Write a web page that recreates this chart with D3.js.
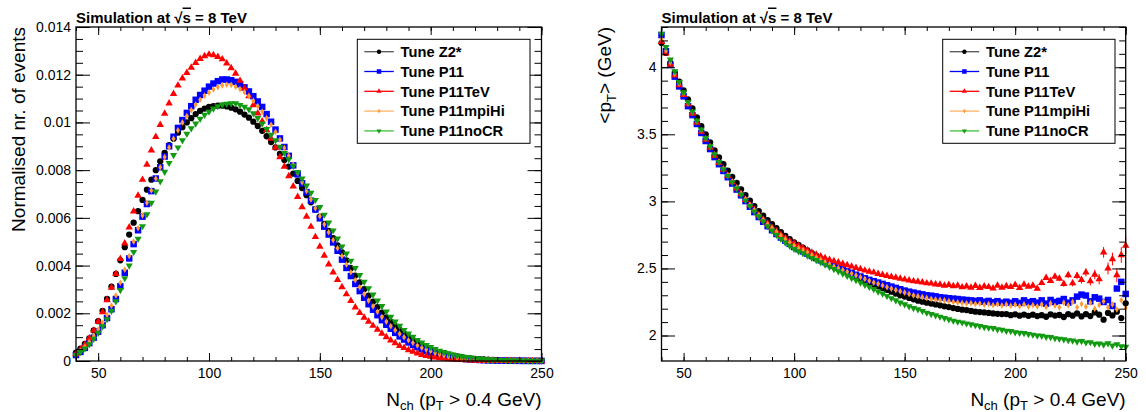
<!DOCTYPE html>
<html><head><meta charset="utf-8">
<script src="https://cdn.jsdelivr.net/npm/d3@7"></script>
<style>
body{margin:0;background:#fff}
text{font-family:"Liberation Sans",Arial,Helvetica,sans-serif}
</style>
</head><body><svg id="c" width="1146" height="412"></svg>
<script>
// ---------------- DATA ----------------
const seriesNames = ["Tune Z2*","Tune P11","Tune P11TeV","Tune P11mpiHi","Tune P11noCR"];
const xTicks = [50,100,150,200,250];
const distTicks = [0,0.002,0.004,0.006,0.008,0.01,0.012,0.014];
const ptTicks = [2,2.5,3,3.5,4];

const nch = [40,42,44,46,48,50,52,54,56,58,60,62,64,66,68,70,72,74,76,78,80,82,84,86,88,90,92,94,96,98,
 100,102,104,106,108,110,112,114,116,118,120,122,124,126,128,130,132,134,136,138,140,142,144,146,148,150,152,154,156,158,
 160,162,164,166,168,170,172,174,176,178,180,182,184,186,188,190,192,194,196,198,200,202,204,206,208,210,212,214,216,218,
 220,222,224,226,228,230,232,234,236,238,240,242,244,246,248,250];

// Normalised nr. of events, values given in units of 1e-4
const DIST_UNIT = 1e-4;
const distZ2 = [3.5,5.2,7.2,9.5,12.8,16.7,21,26,31.2,36.5,
 42.2,47.7,53,58,62.8,67.5,71.8,76,80,83.7,
 87.2,90.5,93.2,95.7,98,100,101.8,103.5,104.8,105.8,
 106.5,106.8,107,107,106.7,106.2,105.5,104.5,103.3,102,
 100.3,98.5,96.5,94.2,91.8,89.5,86.8,84.2,81.5,78.5,
 75.5,72.5,69.5,66.5,63.5,60.5,57.5,54.5,51.5,48.5,
 45.5,42.2,38.9,35.8,32.9,30.1,27.4,24.9,22.6,20.3,
 18.3,16.4,14.6,13.0,11.5,10.1,8.9,7.8,6.7,5.8,
 5.0,4.3,3.7,3.15,2.65,2.25,1.9,1.58,1.33,1.1,
 0.91,0.76,0.63,0.52,0.43,0.36,0.29,0.24,0.2,0.16,
 0.13,0.11,0.09,0.077,0.063,0.05];
const distP11 = [2.5,3.8,5.5,7.5,9.8,12.3,15,18,21.7,26,
 31.3,37,43,49,54.8,60.5,65.8,71.2,76.5,81.2,
 85.7,90,94,97.7,101,104,106.8,109.5,111.5,113.3,
 115,116.3,117.3,118,118,117.7,117,116,114.7,113,
 111,108.8,106.5,103.5,100.3,97,93.3,89.7,86,82,
 78.2,74.5,70.8,67.2,63.5,59.8,56.3,53,49.7,46.2,
 42.5,39,35.6,32.3,29.3,26.5,23.8,21.5,19.2,17.1,
 15.2,13.5,11.8,10.3,9.0,7.8,6.7,5.8,4.9,4.2,
 3.5,2.9,2.4,2.0,1.65,1.38,1.15,0.93,0.77,0.63,
 0.51,0.42,0.34,0.27,0.22,0.18,0.15,0.12,0.1,0.08,
 0.067,0.055,0.045,0.038,0.032,0.025];
const distP11TeV = [3,4.7,6.8,9.5,12.8,16.5,20.5,25.5,30.8,36.5,
 42.8,49.3,56,62.7,69.3,76,82.3,88.3,94,99,
 103.7,108,112,115.5,118.5,120.8,123,125,126.7,127.8,
 128.5,128.2,127.5,126.5,124.8,122.8,120.5,117.5,114.3,111,
 107.3,103.8,100.5,96.8,93.2,89.5,85.5,81.5,77.5,73.2,
 68.8,64.5,60.5,56.3,52,48,44.2,40.5,37.2,34,
 31,28,25.2,22.5,20.2,18.2,16.5,14.8,13.2,11.5,
 10,8.7,7.5,6.4,5.5,4.6,3.9,3.2,2.6,2.2,
 1.83,1.5,1.23,1.0,0.8,0.67,0.55,0.45,0.37,0.3,
 0.25,0.2,0.16,0.13,0.11,0.09,0.07,0.057,0.047,0.04,
 0.033,0.027,0.02,0.017,0.013,0.01];
const distP11mpiHi = [2.8,4.3,6,8,10.5,13.2,16,19.3,23.2,27.5,
 32.8,38.3,44,50,55.7,61,66.3,71.5,76.5,81.2,
 85.5,89.5,93.2,96.7,100,102.7,105.2,107.5,109.5,111.2,
 112.5,113.8,114.8,115.5,115.8,115.7,115,114,112.7,111,
 109,106.8,104.5,101.8,99,96,92.7,89.3,86,82.3,
 78.7,75,71.3,67.7,64,60.7,57.3,54,50.7,47.3,
 44,40.5,37.2,33.9,30.9,28,25.3,22.9,20.6,18.4,
 16.5,14.6,12.9,11.4,10,8.7,7.6,6.5,5.6,4.8,
 4.1,3.4,2.9,2.4,2.0,1.67,1.37,1.12,0.93,0.76,
 0.61,0.5,0.41,0.33,0.27,0.22,0.18,0.15,0.12,0.095,
 0.078,0.063,0.05,0.043,0.037,0.03];
const distP11noCR = [2.5,3.7,5.2,7,9.3,11.8,14.5,17.5,21,25,
 29.7,34.7,40,45.7,51.2,56.5,61.5,66.3,71,75.3,
 79.3,83,86.3,89.5,92.5,95.2,97.5,99.5,101.5,103.2,
 104.5,105.8,106.8,107.5,107.8,108,108,107.3,106.5,105.5,
 103.8,101.8,99.5,97.2,94.8,92.5,89.8,87.2,84.5,81.8,
 79.2,76.5,73.5,70.5,67.5,64.5,61.3,58,54.7,51.3,
 48,45,42,39,36,33.2,30.5,27.8,25.3,23,
 20.7,18.5,16.5,14.7,13,11.5,10.1,8.8,7.7,6.7,
 5.8,5,4.3,3.7,3.2,2.73,2.3,1.95,1.66,1.4,
 1.18,1.0,0.85,0.71,0.6,0.5,0.43,0.36,0.3,0.26,
 0.22,0.19,0.16,0.13,0.113,0.1];

// <pT> (GeV)
const ptZ2 = [4.18,4.107,4.033,3.96,3.893,3.827,3.76,3.693,3.627,3.56,
 3.50,3.44,3.38,3.327,3.277,3.23,3.183,3.137,3.09,3.047,
 3.005,2.965,2.928,2.893,2.86,2.83,2.80,2.77,2.743,2.718,
 2.695,2.675,2.655,2.635,2.615,2.595,2.575,2.558,2.54,2.52,
 2.503,2.487,2.47,2.453,2.438,2.425,2.408,2.393,2.38,2.367,
 2.353,2.34,2.327,2.313,2.30,2.29,2.28,2.27,2.26,2.252,
 2.245,2.238,2.232,2.225,2.218,2.212,2.205,2.198,2.193,2.19,
 2.183,2.178,2.175,2.172,2.168,2.165,2.162,2.16,2.16,2.152,
 2.158,2.148,2.156,2.147,2.155,2.145,2.152,2.14,2.158,2.149,
 2.153,2.138,2.16,2.148,2.165,2.142,2.16,2.145,2.172,2.155,
 2.118,2.168,2.15,2.178,2.13,2.24];
const ptP11 = [4.24,4.12,4.017,3.93,3.857,3.783,3.71,3.643,3.577,3.51,
 3.45,3.39,3.33,3.277,3.227,3.18,3.133,3.088,3.045,3.002,
 2.96,2.92,2.883,2.848,2.815,2.785,2.757,2.73,2.707,2.683,
 2.66,2.643,2.627,2.61,2.593,2.577,2.56,2.547,2.533,2.52,
 2.507,2.493,2.48,2.467,2.453,2.44,2.427,2.415,2.405,2.395,
 2.385,2.375,2.365,2.355,2.345,2.335,2.327,2.32,2.313,2.307,
 2.30,2.297,2.292,2.285,2.282,2.278,2.275,2.272,2.268,2.265,
 2.262,2.258,2.262,2.252,2.258,2.248,2.256,2.245,2.252,2.244,
 2.255,2.243,2.262,2.248,2.256,2.245,2.262,2.238,2.265,2.25,
 2.258,2.272,2.245,2.262,2.29,2.305,2.298,2.255,2.285,2.275,
 2.25,2.265,2.22,2.35,2.4,2.31];
const ptP11TeV = [4.19,4.103,4.02,3.94,3.867,3.795,3.725,3.655,3.587,3.52,
 3.46,3.40,3.34,3.287,3.237,3.19,3.143,3.098,3.055,3.012,
 2.972,2.935,2.898,2.865,2.835,2.805,2.777,2.75,2.727,2.705,
 2.685,2.668,2.652,2.635,2.618,2.603,2.59,2.577,2.565,2.555,
 2.545,2.535,2.525,2.515,2.505,2.495,2.485,2.477,2.47,2.46,
 2.452,2.445,2.438,2.432,2.425,2.418,2.412,2.405,2.402,2.397,
 2.39,2.388,2.382,2.38,2.372,2.378,2.368,2.372,2.36,2.366,
 2.358,2.37,2.356,2.366,2.362,2.352,2.372,2.358,2.368,2.362,
 2.378,2.356,2.38,2.365,2.372,2.35,2.392,2.43,2.408,2.44,
 2.425,2.385,2.45,2.39,2.445,2.415,2.47,2.405,2.455,2.42,
 2.62,2.5,2.57,2.45,2.6,2.67];
const ptP11mpiHi = [4.21,4.123,4.037,3.95,3.877,3.803,3.73,3.663,3.597,3.53,
 3.47,3.41,3.35,3.297,3.245,3.195,3.148,3.103,3.06,3.017,
 2.975,2.935,2.898,2.863,2.83,2.80,2.772,2.745,2.718,2.693,
 2.67,2.653,2.637,2.62,2.60,2.582,2.565,2.548,2.532,2.515,
 2.502,2.488,2.475,2.462,2.448,2.435,2.422,2.408,2.395,2.385,
 2.373,2.36,2.35,2.34,2.33,2.32,2.31,2.30,2.293,2.287,
 2.28,2.273,2.268,2.265,2.262,2.256,2.25,2.247,2.243,2.24,
 2.242,2.236,2.238,2.229,2.235,2.226,2.233,2.224,2.232,2.222,
 2.23,2.218,2.232,2.215,2.226,2.218,2.232,2.212,2.24,2.222,
 2.21,2.245,2.225,2.25,2.21,2.235,2.215,2.245,2.2,2.228,
 2.255,2.21,2.232,2.195,2.262,2.205];
const ptP11noCR = [4.25,4.15,4.057,3.97,3.89,3.813,3.74,3.67,3.602,3.535,
 3.472,3.41,3.35,3.293,3.24,3.19,3.143,3.097,3.05,3.007,
 2.965,2.925,2.888,2.852,2.815,2.782,2.75,2.72,2.693,2.668,
 2.645,2.628,2.612,2.595,2.578,2.562,2.545,2.528,2.512,2.495,
 2.478,2.462,2.445,2.428,2.412,2.395,2.378,2.362,2.345,2.328,
 2.312,2.295,2.278,2.262,2.245,2.232,2.218,2.205,2.195,2.183,
 2.17,2.16,2.15,2.14,2.13,2.12,2.11,2.103,2.097,2.09,
 2.083,2.077,2.07,2.063,2.058,2.055,2.046,2.043,2.035,2.033,
 2.024,2.02,2.018,2.01,2.006,2.0,1.998,1.99,1.988,1.98,
 1.976,1.972,1.965,1.962,1.955,1.958,1.948,1.95,1.938,1.94,
 1.932,1.942,1.925,1.935,1.92,1.915];

// statistical errors of Tune P11TeV <pT> at high multiplicity
const errNch = [204,206,208,210,212,214,216,218,220,222,224,226,228,230,232,234,236,238,240,242,244,246,248,250];
const errP11TeV = [0.012,0.012,0.013,0.014,0.015,0.016,0.017,0.018,0.02,0.021,0.022,0.024,0.026,0.028,0.03,0.032,0.035,0.038,0.04,0.044,0.048,0.053,0.058,0.065];

// ---------------- STYLE ----------------
const styles = [
  {fill:"#000000", line:"#555555", sym:"circle"},
  {fill:"#0000ff", line:"#0000ff", sym:"square"},
  {fill:"#ff0000", line:"#ff0000", sym:"triangle"},
  {fill:"#ff9933", line:"#ffb366", sym:"diamond"},
  {fill:"#129a12", line:"#3fbf3f", sym:"triangleDown"}
];
const distSeries = [distZ2, distP11, distP11TeV, distP11mpiHi, distP11noCR];
const ptSeries = [ptZ2, ptP11, ptP11TeV, ptP11mpiHi, ptP11noCR];
[...distSeries, ...ptSeries].forEach((s,i)=>{ if (s.length !== nch.length) throw new Error("series "+i+" length "+s.length+" != "+nch.length); });
if (errNch.length !== errP11TeV.length) throw new Error("err length");

const svg = d3.select("#c");
const FONT = '"Liberation Sans",Arial,Helvetica,sans-serif';

function symbolPath(sym, k){
  const map = {
    circle: [d3.symbolCircle, 31],
    square: [d3.symbolSquare, 42],
    triangle: [d3.symbolTriangle, 24],
    diamond: [d3.symbolDiamond, 13],
    triangleDown: [d3.symbolTriangle, 22]
  };
  const [t, s] = map[sym];
  return d3.symbol(t, s*k*k)();
}
function markerTransform(sym, x, y){
  return sym === "triangleDown" ? `translate(${x},${y}) rotate(180)` : `translate(${x},${y})`;
}

function drawPanel(cfg){
  const x = d3.scaleLinear().domain([40,250]).range([cfg.x0, cfg.x1]);
  const y = d3.scaleLinear().domain(cfg.yDomain).range([cfg.y1, cfg.y0]);
  const g = svg.append("g");

  cfg.series.forEach((vals, si)=>{
    const st = styles[si];
    const pts = nch.map((n,i)=>({n, v: vals[i]*cfg.unit}));
    if (cfg.errors && cfg.errors[si]) {
      const e = cfg.errors[si];
      const eg = g.append("g").attr("stroke", st.fill).attr("stroke-width",1);
      e.n.forEach((n,k)=>{
        const i = nch.indexOf(n);
        if (i < 0) return;
        const v = vals[i]*cfg.unit;
        eg.append("line").attr("x1",x(n)).attr("x2",x(n)).attr("y1",y(v-e.err[k])).attr("y2",y(v+e.err[k]));
      });
    }
    g.append("g").selectAll("path").data(pts).join("path")
      .attr("d", symbolPath(st.sym, 1))
      .attr("transform", d=>markerTransform(st.sym, x(d.n), y(d.v)))
      .attr("fill", st.fill);
  });

  function styleAxis(sel){ sel.select(".domain").remove(); sel.attr("font-size",14).attr("font-family",FONT); }
  const xMinor = d3.range(40,251,10);
  g.append("g").attr("transform",`translate(0,${cfg.y1})`)
    .call(d3.axisBottom(x).tickValues(xMinor).tickSize(-4).tickFormat("")).call(styleAxis);
  g.append("g").attr("transform",`translate(0,${cfg.y1})`)
    .call(d3.axisBottom(x).tickValues(xTicks).tickSize(-8).tickPadding(7).tickFormat(d3.format("d"))).call(styleAxis);
  g.append("g").attr("transform",`translate(0,${cfg.y0})`)
    .call(d3.axisTop(x).tickValues(xMinor).tickSize(-4).tickFormat("")).call(styleAxis);
  g.append("g").attr("transform",`translate(0,${cfg.y0})`)
    .call(d3.axisTop(x).tickValues(xTicks).tickSize(-8).tickFormat("")).call(styleAxis);

  const fmt = d => String(+d.toFixed(4));
  g.append("g").attr("transform",`translate(${cfg.x0},0)`)
    .call(d3.axisLeft(y).tickValues(cfg.yMinor).tickSize(-cfg.minorLen).tickFormat("")).call(styleAxis);
  g.append("g").attr("transform",`translate(${cfg.x0},0)`)
    .call(d3.axisLeft(y).tickValues(cfg.yMajor).tickSize(-cfg.majorLen).tickPadding(5).tickFormat(fmt)).call(styleAxis);
  g.append("g").attr("transform",`translate(${cfg.x1},0)`)
    .call(d3.axisRight(y).tickValues(cfg.yMinor).tickSize(-cfg.minorLen).tickFormat("")).call(styleAxis);
  g.append("g").attr("transform",`translate(${cfg.x1},0)`)
    .call(d3.axisRight(y).tickValues(cfg.yMajor).tickSize(-cfg.majorLen).tickFormat("")).call(styleAxis);

  g.append("rect").attr("x",cfg.x0).attr("y",cfg.y0).attr("width",cfg.x1-cfg.x0).attr("height",cfg.y1-cfg.y0)
    .attr("fill","none").attr("stroke","#000").attr("stroke-width",1.3);

  const t = g.append("text").attr("x",cfg.x0).attr("y",22.5).attr("font-size",15).attr("font-weight","bold");
  t.append("tspan").text("Simulation at ");
  t.append("tspan").text("√");
  t.append("tspan").text("s").style("text-decoration","overline");
  t.append("tspan").text(" = 8 TeV");

  const xt = g.append("text").attr("x",cfg.x1).attr("y",406).attr("text-anchor","end").attr("font-size",19);
  xt.append("tspan").text("N");
  xt.append("tspan").attr("font-size",13).attr("dy",4).text("ch");
  xt.append("tspan").attr("dy",-4).text(" (p");
  xt.append("tspan").attr("font-size",13).attr("dy",4).text("T");
  xt.append("tspan").attr("dy",-4).text(" > 0.4 GeV)");

  const L = cfg.legend;
  g.append("rect").attr("x",L.x).attr("y",39.3).attr("width",L.w).attr("height",104)
    .attr("fill","#fff").attr("stroke","#000").attr("stroke-width",1);
  seriesNames.forEach((name,i)=>{
    const cy = 51.7 + i*19.8;
    const st = styles[i];
    g.append("line").attr("x1",L.x+7).attr("x2",L.x+36.5).attr("y1",cy).attr("y2",cy)
      .attr("stroke",st.line).attr("stroke-width",1.3);
    g.append("path").attr("d",symbolPath(st.sym,0.7)).attr("transform",markerTransform(st.sym,L.x+21.7,cy)).attr("fill",st.fill);
    g.append("text").attr("x",L.x+43.3).attr("y",cy+5.3).attr("font-size",14.7).attr("font-weight","bold").text(name);
  });
  return {x,y,g};
}

drawPanel({
  x0:76, x1:541.5, y0:27, y1:361, yDomain:[0,0.014], unit:DIST_UNIT,
  yMajor:distTicks, yMinor:d3.range(0,29).map(i=>i*0.0005), majorLen:14, minorLen:7,
  series:distSeries, legend:{x:357.3, w:172.7}
});
svg.append("text").attr("transform","translate(25,27) rotate(-90)").attr("text-anchor","end")
  .attr("font-size",19).text("Normalised nr. of events");

drawPanel({
  x0:661.5, x1:1125.7, y0:27, y1:361, yDomain:[1.81,4.3], unit:1,
  yMajor:ptTicks, yMinor:d3.range(19,44).map(i=>i/10), majorLen:13.5, minorLen:6.5,
  series:ptSeries, legend:{x:942.7, w:172.3},
  errors:[null,null,{n:errNch, err:errP11TeV},null,null]
});
const yt = svg.append("text").attr("transform","translate(611,27) rotate(-90)").attr("text-anchor","end").attr("font-size",19);
yt.append("tspan").text("<p");
yt.append("tspan").attr("font-size",13).attr("dy",5).text("T");
yt.append("tspan").attr("dy",-5).text("> (GeV)");
</script></body></html>
